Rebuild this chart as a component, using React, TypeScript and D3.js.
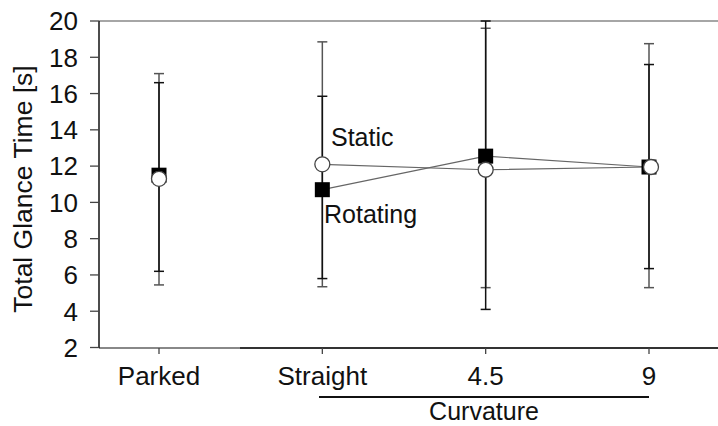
import React from "react";
import * as d3 from "d3";

const categories = ["Parked", "Straight", "4.5", "9"];
const staticMean = [11.3, 12.1, 11.8, 11.95];
const rotatingMean = [11.5, 10.7, 12.55, 11.95];
const staticLow = [5.45, 5.35, 5.3, 5.3];
const staticHigh = [17.1, 18.85, 19.6, 18.75];
const rotatingLow = [6.2, 5.8, 4.1, 6.35];
const rotatingHigh = [16.6, 15.85, 20.0, 17.6];
const yTicks = [2, 4, 6, 8, 10, 12, 14, 16, 18, 20];

const W = 718;
const H = 426;
const FONT = "'Liberation Sans', Arial, Helvetica, sans-serif";

export default function App() {
  const x = d3.scalePoint<string>().domain(categories).range([159, 649]);
  const y = d3.scaleLinear().domain([2, 20]).range([347.5, 21]);
  const axisLeft = 99;
  const axisRight = 718;

  const curveCats = categories.slice(1);
  const lineGen = d3
    .line<[string, number]>()
    .x((d) => x(d[0]) as number)
    .y((d) => y(d[1]));
  const staticLine = lineGen(curveCats.map((c, i) => [c, staticMean[i + 1]]));
  const rotLine = lineGen(curveCats.map((c, i) => [c, rotatingMean[i + 1]]));

  const capW = 5;
  const errBar = (cx: number, lo: number, hi: number, color: string, key: string) => (
    <g key={key} stroke={color} strokeWidth={1.5}>
      <line x1={cx} x2={cx} y1={y(lo)} y2={y(hi)} />
      <line x1={cx - capW} x2={cx + capW} y1={y(lo)} y2={y(lo)} />
      <line x1={cx - capW} x2={cx + capW} y1={y(hi)} y2={y(hi)} />
    </g>
  );

  const sq = 15;

  return (
    <svg
      width={W}
      height={H}
      style={{ position: "absolute", left: 0, top: 0, background: "#fff" }}
      fontFamily={FONT}
    >
      <rect x={0} y={0} width={W} height={H} fill="#fff" />
      {/* frame */}
      <line x1={axisLeft} x2={axisRight} y1={y(20)} y2={y(20)} stroke="#888" strokeWidth={1.5} />
      <line x1={axisLeft} x2={240} y1={348} y2={348} stroke="#888" strokeWidth={2} />
      <line x1={240} x2={axisRight} y1={348} y2={348} stroke="#333" strokeWidth={2} />
      <line x1={axisLeft} x2={axisLeft} y1={y(20)} y2={348} stroke="#111" strokeWidth={1.5} />

      {/* y ticks */}
      {yTicks.map((t) => (
        <g key={t}>
          <line x1={axisLeft - 9} x2={axisLeft} y1={y(t)} y2={y(t)} stroke="#444" strokeWidth={1.3} />
          <text x={78} y={y(t)} dy="0.36em" textAnchor="end" fontSize={26} fill="#111">
            {t}
          </text>
        </g>
      ))}
      <text
        transform={`translate(32, 189) rotate(-90)`}
        textAnchor="middle"
        fontSize={26.5}
        fill="#111"
      >
        Total Glance Time [s]
      </text>

      {/* x ticks */}
      {categories.map((c) => (
        <g key={c}>
          <line x1={x(c)} x2={x(c)} y1={348} y2={354} stroke="#444" strokeWidth={1.3} />
          <text x={x(c)} y={385} textAnchor="middle" fontSize={26} fill="#111">
            {c}
          </text>
        </g>
      ))}
      <line x1={319} x2={x("9") as number} y1={397} y2={397} stroke="#111" strokeWidth={2} />
      <text x={484} y={420} textAnchor="middle" fontSize={25} fill="#111">
        Curvature
      </text>

      {/* error bars */}
      {categories.map((c, i) => errBar(x(c) as number, staticLow[i], staticHigh[i], "#555", "s" + c))}
      {categories.map((c, i) => errBar(x(c) as number, rotatingLow[i], rotatingHigh[i], "#111", "r" + c))}

      {/* lines */}
      <path d={staticLine ?? ""} fill="none" stroke="#666" strokeWidth={1.2} />
      <path d={rotLine ?? ""} fill="none" stroke="#666" strokeWidth={1.2} />

      {/* markers */}
      {categories.map((c, i) => (
        <rect
          key={"rm" + c}
          x={(x(c) as number) - sq / 2}
          y={y(rotatingMean[i]) - sq / 2}
          width={sq}
          height={sq}
          fill="#000"
        />
      ))}
      {categories.map((c, i) => (
        <circle
          key={"sm" + c}
          cx={(x(c) as number) + (i === 3 ? 2 : 0)}
          cy={y(staticMean[i])}
          r={7.5}
          fill="#fff"
          stroke="#444"
          strokeWidth={1.3}
        />
      ))}

      <text x={331} y={146} fontSize={25} fill="#111">
        Static
      </text>
      <text x={324} y={223} fontSize={25} fill="#111">
        Rotating
      </text>
    </svg>
  );
}
